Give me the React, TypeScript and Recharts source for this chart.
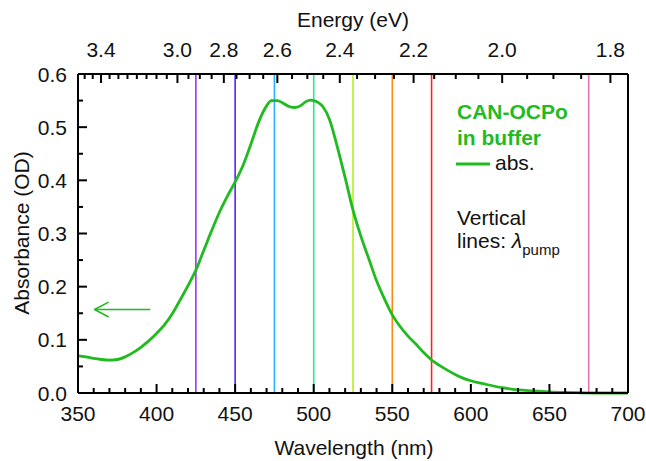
import React from 'react';
import { LineChart, Line, XAxis, YAxis, ReferenceLine } from 'recharts';

// absorption spectrum of CAN-OCPo in buffer
const wavelengths = [
  350, 355, 360, 365, 370, 375, 380, 385, 390, 395, 400, 405, 410, 415, 420, 425, 430, 435,
  440, 445, 450, 455, 460, 465, 470, 473, 477, 480, 485, 488, 492, 495, 498, 500, 503, 506,
  510, 515, 520, 525, 530, 535, 540, 545, 550, 555, 560, 565, 570, 575, 580, 585, 590, 595,
  600, 610, 620, 630, 640, 650, 660, 670, 685, 700,
];
const absorbance = [
  0.07, 0.068, 0.065, 0.063, 0.062, 0.063, 0.068, 0.076, 0.086, 0.098, 0.112, 0.128, 0.149, 0.175, 0.202, 0.231, 0.268, 0.305,
  0.34, 0.37, 0.397, 0.428, 0.468, 0.51, 0.54, 0.55, 0.55, 0.546, 0.538, 0.537, 0.541, 0.548, 0.551, 0.55, 0.546, 0.538,
  0.515, 0.463, 0.405, 0.344, 0.295, 0.253, 0.211, 0.177, 0.147, 0.125, 0.107, 0.092, 0.076, 0.062, 0.052, 0.043, 0.035, 0.028,
  0.023, 0.016, 0.01, 0.006, 0.004, 0.002, 0.001, 0.0005, 0, 0,
];

const pumpWavelengths = [425, 450, 475, 500, 525, 550, 575, 675];
const pumpColors = ['#9933ff', '#5522ff', '#22b4ff', '#22ee88', '#b4ee22', '#ff8811', '#ff2020', '#dd77bb'];

const wavelengthLabels = [350, 400, 450, 500, 550, 600, 650, 700];
const energyLabels = [3.4, 3.0, 2.8, 2.6, 2.4, 2.2, 2.0, 1.8];

const HC = 1239.84; // eV*nm
const GREEN = '#1fbb1f';
const FONT = '"Liberation Sans", Arial, sans-serif';

const data = wavelengths.map((wl, i) => ({ wl, abs: absorbance[i] }));

const wlTicks: number[] = [];
for (let w = 350; w <= 700; w += 10) wlTicks.push(w);
const absTicks: number[] = [];
for (let k = 0; k <= 12; k++) absTicks.push(k * 0.05);
const energyTicks: number[] = [];
for (let k = 70; k >= 36; k--) energyTicks.push(HC / (k * 0.05));

const BottomTick = (props: any) => {
  const { x, y, payload } = props;
  const major = wavelengthLabels.includes(payload.value);
  return (
    <g>
      <line x1={x} x2={x} y1={y} y2={y - (major ? 9 : 5)} stroke="#000" strokeWidth={2} />
      {major && (
        <text x={x} y={y + 28} textAnchor="middle" fontSize={21} fontFamily={FONT} fill="#111">
          {payload.value}
        </text>
      )}
    </g>
  );
};

const TopTick = (props: any) => {
  const { x, y, payload } = props;
  const e = Math.round((HC / payload.value) * 20) / 20;
  const label = energyLabels.find((v) => Math.abs(v - e) < 0.001);
  const major = label !== undefined;
  return (
    <g>
      <line x1={x} x2={x} y1={y} y2={y + (major ? 9 : 5)} stroke="#000" strokeWidth={2} />
      {major && (
        <text x={x} y={y - 17} textAnchor="middle" fontSize={21} fontFamily={FONT} fill="#111">
          {label.toFixed(1)}
        </text>
      )}
    </g>
  );
};

const LeftTick = (props: any) => {
  const { x, y, payload } = props;
  const major = Math.round(payload.value * 20) % 2 === 0;
  return (
    <g>
      <line x1={x} x2={x + (major ? 9 : 5)} y1={y} y2={y} stroke="#000" strokeWidth={2} />
      {major && (
        <text x={x - 11} y={y} dy="0.36em" textAnchor="end" fontSize={21} fontFamily={FONT} fill="#111">
          {payload.value.toFixed(1)}
        </text>
      )}
    </g>
  );
};

const RightTick = (props: any) => {
  const { x, y, payload } = props;
  const major = Math.round(payload.value * 20) % 2 === 0;
  return <line x1={x} x2={x - (major ? 9 : 5)} y1={y} y2={y} stroke="#000" strokeWidth={2} />;
};

export default function App() {
  return (
    <div style={{ position: 'relative', width: 646, height: 461 }}>
      {/* the chart runs up to the window edges, so drop the body margin and scrollbars */}
      <style>{'html, body { margin: 0; overflow: hidden; } #root { width: 646px; overflow: visible; }'}</style>
      <div style={{ position: 'absolute', left: 8, top: 8, width: 638, height: 453 }}>
        <LineChart width={638} height={453} data={data} margin={{ top: 0, right: 0, bottom: 0, left: 0 }}>
          <XAxis
            xAxisId="bottom"
            dataKey="wl"
            type="number"
            domain={[350, 700]}
            ticks={wlTicks}
            interval={0}
            height={68}
            tickSize={0}
            tickMargin={0}
            tickLine={false}
            tick={<BottomTick />}
            axisLine={{ stroke: '#000', strokeWidth: 2 }}
          />
          <XAxis
            xAxisId="top"
            orientation="top"
            type="number"
            dataKey="wl"
            domain={[350, 700]}
            ticks={energyTicks}
            interval={0}
            height={66}
            tickSize={0}
            tickMargin={0}
            tickLine={false}
            tick={<TopTick />}
            axisLine={{ stroke: '#000', strokeWidth: 2 }}
          />
          <YAxis
            yAxisId="left"
            type="number"
            domain={[0, 0.6]}
            ticks={absTicks}
            interval={0}
            width={70}
            tickSize={0}
            tickMargin={0}
            tickLine={false}
            tick={<LeftTick />}
            axisLine={{ stroke: '#000', strokeWidth: 2 }}
          />
          <YAxis
            yAxisId="right"
            orientation="right"
            type="number"
            domain={[0, 0.6]}
            ticks={absTicks}
            interval={0}
            width={18}
            tickSize={0}
            tickMargin={0}
            tickLine={false}
            tick={<RightTick />}
            axisLine={{ stroke: '#000', strokeWidth: 2 }}
          />
          {pumpWavelengths.map((w, i) => (
            <ReferenceLine key={w} xAxisId="bottom" yAxisId="left" x={w} stroke={pumpColors[i]} strokeWidth={1.6} />
          ))}
          {/* arrow pointing to the left axis */}
          <ReferenceLine
            xAxisId="bottom"
            yAxisId="left"
            segment={[{ x: 360.5, y: 0.157 }, { x: 396, y: 0.157 }]}
            stroke={GREEN}
            strokeWidth={1.5}
          />
          <ReferenceLine
            xAxisId="bottom"
            yAxisId="left"
            segment={[{ x: 360.5, y: 0.157 }, { x: 369.5, y: 0.171 }]}
            stroke={GREEN}
            strokeWidth={1.5}
          />
          <ReferenceLine
            xAxisId="bottom"
            yAxisId="left"
            segment={[{ x: 360.5, y: 0.157 }, { x: 369.5, y: 0.143 }]}
            stroke={GREEN}
            strokeWidth={1.5}
          />
          <Line
            xAxisId="bottom"
            yAxisId="left"
            type="monotone"
            dataKey="abs"
            stroke={GREEN}
            strokeWidth={2.8}
            dot={false}
            isAnimationActive={false}
          />
        </LineChart>
        <svg
          width={638}
          height={453}
          style={{ position: 'absolute', left: 0, top: 0, pointerEvents: 'none' }}
          fontFamily={FONT}
        >
          <text x={345} y={19} textAnchor="middle" fontSize={21} fill="#111">Energy (eV)</text>
          <text x={346} y={447} textAnchor="middle" fontSize={21} fill="#111">Wavelength (nm)</text>
          <text x={21} y={225} textAnchor="middle" fontSize={21} fill="#111" transform="rotate(-90 21 225)">
            Absorbance (OD)
          </text>
          <text x={449} y={111} fontSize={21} fontWeight="bold" fill={GREEN}>CAN-OCPo</text>
          <text x={449} y={137} fontSize={21} fontWeight="bold" fill={GREEN}>in buffer</text>
          <line x1={448} x2={482} y1={156} y2={156} stroke={GREEN} strokeWidth={2.8} />
          <text x={487} y={162} fontSize={21} fill="#111">abs.</text>
          <text x={449} y={217} fontSize={21} fill="#111">Vertical</text>
          <text x={449} y={240} fontSize={21} fill="#111">
            lines: <tspan fontStyle="italic">λ</tspan>
            <tspan fontSize={15} dy={7}>pump</tspan>
          </text>
        </svg>
      </div>
    </div>
  );
}
